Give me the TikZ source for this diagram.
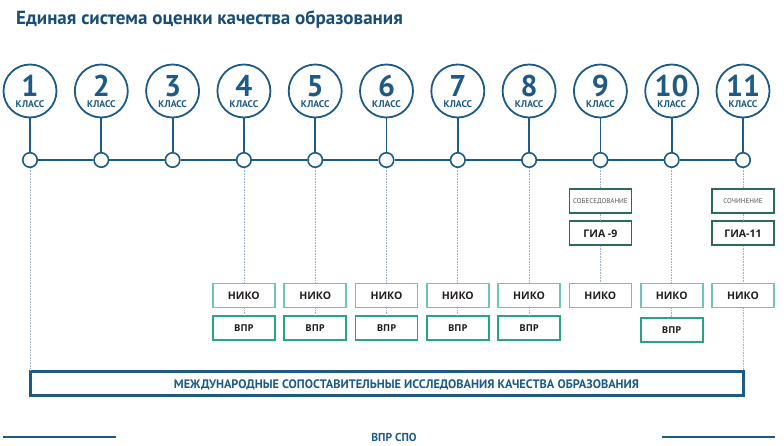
\documentclass[tikz,border=0pt]{standalone}
\usepackage{fontspec}
\setmainfont{PT Sans}
\newfontfamily\boxfont{Open Sans}
\usetikzlibrary{positioning,calc}
\definecolor{esonavy}{HTML}{1D5A85}
\definecolor{esotitle}{HTML}{1A4D73}
\definecolor{esoniko}{HTML}{6CC6B3}
\definecolor{esovpr}{HTML}{27A386}
\definecolor{esogia}{HTML}{2E6B57}
\definecolor{esodot}{HTML}{9FB0C4}
\definecolor{esoink}{HTML}{231F20}

\begin{document}
\begin{tikzpicture}[x=1pt,y=-1pt,
  grade/.style={circle, draw=esonavy, line width=1.8pt, fill=white,
                minimum size=53pt, inner sep=0pt},
  joint/.style={circle, draw=esonavy, line width=1.6pt, fill=white,
                minimum size=14.5pt, inner sep=0pt},
  link/.style={draw=esonavy, line width=1.8pt},
  guide/.style={draw=esodot, line width=0.7pt, dash pattern=on 0.8pt off 0.8pt},
  box/.style={rectangle, line width=1.8pt, fill=white, minimum width=62pt,
              minimum height=24pt, inner sep=0pt, text=esoink,
              font=\boxfont\fontsize{10.5}{10.5}\selectfont\bfseries},
  nikobox/.style={box, draw=esoniko},
  vprbox/.style={box, draw=esovpr, font=\boxfont\fontsize{9.5}{9.5}\selectfont\bfseries},
  giabox/.style={box, draw=esogia},
  notebox/.style={box, draw=esogia, text=esoink!75,
                  font=\fontsize{7}{7}\selectfont},
  caps/.style={text=esonavy, inner sep=0pt, text depth=0pt,
               font=\fontsize{#1}{#1}\selectfont\bfseries},
]
\useasboundingbox (0,0) rectangle (784,446);

\node[anchor=base west, inner sep=0pt, text=esotitle,
      font=\fontsize{19}{19}\selectfont\bfseries]
  (title) at (16,25) {Единая система оценки качества образования};

% grades on the time line
\foreach \i in {1,...,11} {
  \pgfmathsetmacro{\gx}{30+(\i-1)*71.3}
  \node[grade] (g\i) at (\gx,91) {};
  \node[caps=30, anchor=base, text height=21pt] (n\i) at (\gx,96.5) {\i};
  \node[caps=9.7, anchor=base, text height=7pt] (k\i) at (\gx,108) {КЛАСС};
  \node[joint] (j\i) at (\gx,160) {};
  \draw[link] (g\i) -- (j\i);
}
\foreach \i [count=\j from 2] in {1,...,10}
  \draw[link] (j\i) -- (j\j);

% assessments
\foreach \i in {4,...,8} {
  \node[nikobox] (niko\i) at (j\i |- 0,295.5) {НИКО};
  \node[vprbox, below=7pt of niko\i] (vpr\i) {ВПР};
  \draw[guide] (j\i) -- (niko\i);
  \draw[guide] (niko\i) -- (vpr\i);
}
\node[notebox] (sob) at (j9 |- 0,201) {СОБЕСЕДОВАНИЕ};
\node[giabox, below=6.5pt of sob] (gia9) {ГИА -9};
\node[nikobox] (niko9) at (j9 |- 0,295.5) {НИКО};
\node[nikobox] (niko10) at (j10 |- 0,295.5) {НИКО};
\node[vprbox, below=9pt of niko10] (vpr10) {ВПР};
\node[notebox] (soch) at (j11 |- 0,201) {СОЧИНЕНИЕ};
\node[giabox, below=6.5pt of soch] (gia11) {ГИА-11};
\node[nikobox] (niko11) at (j11 |- 0,295.5) {НИКО};

% international studies
\node[draw=esonavy, line width=2.2pt, minimum width=713pt,
      minimum height=24pt, inner sep=0pt] (msi) at (387,383.5) {};
\node[caps=12.3, anchor=base] (msit) at (406.5,388)
  {МЕЖДУНАРОДНЫЕ СОПОСТАВИТЕЛЬНЫЕ ИССЛЕДОВАНИЯ КАЧЕСТВА ОБРАЗОВАНИЯ};

\draw[guide] (j9) -- (sob);
\draw[guide] (sob) -- (gia9);
\draw[guide] (gia9) -- (niko9);
\draw[guide] (j10) -- (niko10);
\draw[guide] (niko10) -- (vpr10);
\draw[guide] (j11) -- (soch);
\draw[guide] (soch) -- (gia11);
\draw[guide] (gia11) -- (niko11);
\draw[guide] (niko11) -- (niko11 |- msi.north);
\draw[guide] (j1) -- (j1 |- msi.north);

% vpr spo
\node[caps=11.5, anchor=base] (spo) at (394,441) {ВПР СПО};
\coordinate (spol1) at (3,437);
\coordinate (spol2) at (116,437);
\coordinate (spor1) at (662,437);
\coordinate (spor2) at (775,437);
\draw[link, line width=1.5pt] (spol1) -- (spol2);
\draw[link, line width=1.5pt] (spor1) -- (spor2);
\end{tikzpicture}
\end{document}
